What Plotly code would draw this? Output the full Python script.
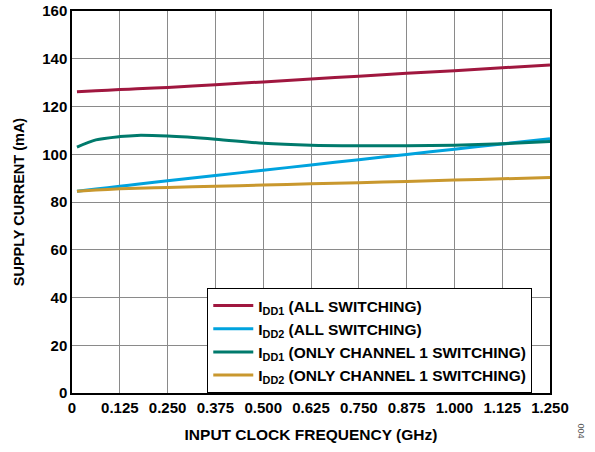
import plotly.graph_objects as go

freq = [0.013, 0.0625, 0.125, 0.17, 0.25, 0.375, 0.5, 0.625, 0.75, 0.875, 1.0, 1.125, 1.25]
idd1_all = [126.2, 126.6, 127.1, 127.4, 128.0, 129.1, 130.3, 131.5, 132.7, 133.9, 135.0, 136.2, 137.4]
idd2_all = [84.5, 85.4, 86.6, 87.4, 88.9, 91.1, 93.3, 95.5, 97.7, 99.9, 102.1, 104.3, 106.5]
idd1_ch1 = [103.0, 106.0, 107.4, 107.9, 107.6, 106.3, 104.6, 103.8, 103.6, 103.6, 103.8, 104.4, 105.3]
idd2_ch1 = [84.5, 85.0, 85.5, 85.8, 86.1, 86.6, 87.1, 87.6, 88.1, 88.6, 89.2, 89.7, 90.3]

names = ["I<sub>DD1</sub> (ALL SWITCHING)",
         "I<sub>DD2</sub> (ALL SWITCHING)",
         "I<sub>DD1</sub> (ONLY CHANNEL 1 SWITCHING)",
         "I<sub>DD2</sub> (ONLY CHANNEL 1 SWITCHING)"]
colors = ["#A0173F", "#00A3DE", "#007A6C", "#C9982E"]
series = [idd1_all, idd2_all, idd1_ch1, idd2_ch1]

x_ticks = [0, 0.125, 0.25, 0.375, 0.5, 0.625, 0.75, 0.875, 1.0, 1.125, 1.25]
x_labels = ["0", "0.125", "0.250", "0.375", "0.500", "0.625", "0.750", "0.875", "1.000", "1.125", "1.250"]

fig = go.Figure()
for n, c, s in zip(names, colors, series):
    fig.add_trace(go.Scatter(x=freq, y=s, mode="lines", name=n,
                             line=dict(color=c, width=3, shape="spline", smoothing=0.8)))

font = "Liberation Sans, Arial, sans-serif"
fig.update_layout(
    width=595, height=452,
    margin=dict(l=72, r=45, t=11, b=59),
    plot_bgcolor="white", paper_bgcolor="white",
    font=dict(family=font, size=14, color="black"),
    showlegend=True,
    legend=dict(x=0.283, y=0.0, xanchor="left", yanchor="bottom",
                bgcolor="white", bordercolor="black", borderwidth=1,
                font=dict(family=font, size=15.5, color="black", weight="bold"),
                tracegroupgap=0, itemwidth=40),
    xaxis=dict(range=[0, 1.25], tickvals=x_ticks, ticktext=x_labels,
               showgrid=True, gridcolor="#8a8a8a", gridwidth=1,
               showline=True, linecolor="black", linewidth=1.5, mirror=True,
               ticks="", zeroline=False, automargin=False, ticklabeloverflow="allow",
               tickfont=dict(family=font, size=15, weight="bold"),
               title=dict(text="<b>INPUT CLOCK FREQUENCY (GHz)</b>",
                          font=dict(family=font, size=15.5), standoff=14)),
    yaxis=dict(range=[0, 160], dtick=20,
               showgrid=True, gridcolor="#8a8a8a", gridwidth=1,
               showline=True, linecolor="black", linewidth=1.5, mirror=True,
               ticks="", zeroline=False, automargin=False, ticklabeloverflow="allow",
               tickfont=dict(family=font, size=15, weight="bold"),
               title=dict(text="<b>SUPPLY CURRENT (mA)</b>",
                          font=dict(family=font, size=14.5), standoff=14)),
)
fig.add_annotation(text="004", xref="paper", yref="paper", x=1.0795, y=-0.123,
                   showarrow=False, textangle=90,
                   font=dict(family=font, size=9, color="#555555"))
fig.write_html("out.html", config={"displayModeBar": False},
               post_script="document.body.style.margin='0';document.body.style.padding='0';")
